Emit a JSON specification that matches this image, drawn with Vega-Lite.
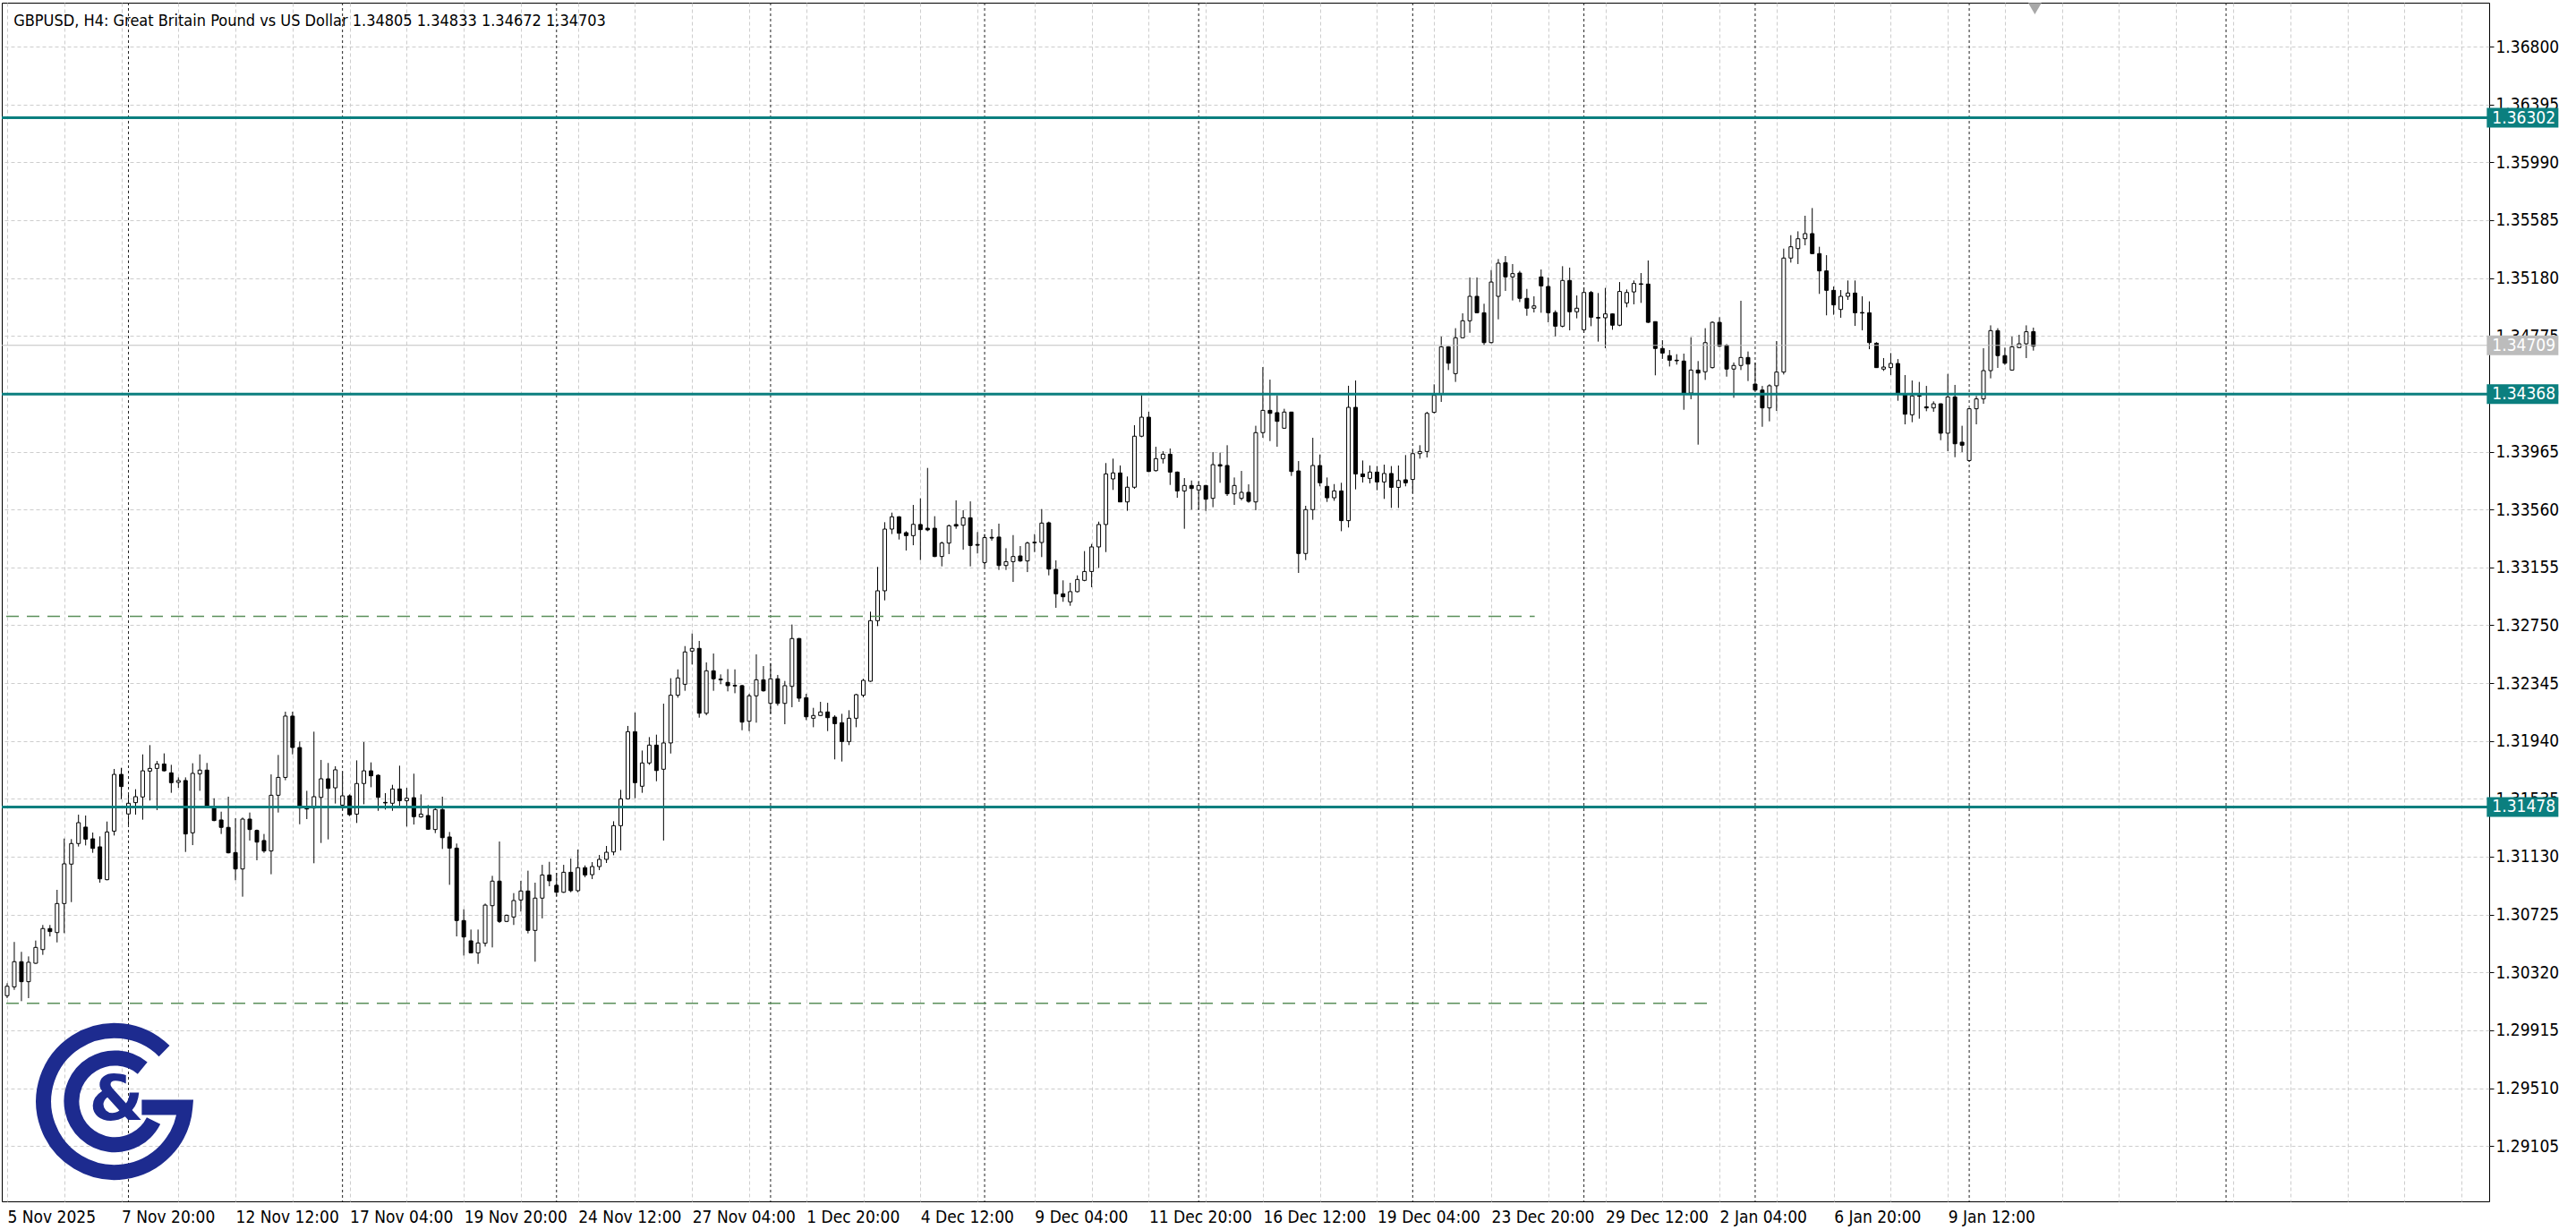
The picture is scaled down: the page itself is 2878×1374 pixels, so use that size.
{
"$schema":"https://vega.github.io/schema/vega-lite/v6.json",
"width":2779,"height":1339,
"autosize":{"type":"none"},
"padding":{"left":2,"top":3,"right":97,"bottom":32},
"background":"#ffffff",
"config":{
 "view":{"stroke":"#000000","strokeWidth":1},
 "axis":{"labelFont":"DejaVu Sans Condensed","labelFontSize":19,"labelColor":"#000000","domainColor":"#000000","tickColor":"#000000","gridColor":"#cdcdcd","gridDash":[4,3],"gridWidth":1}
},
"datasets":{
"candles":[
{"i":0,"o":1.30157,"h":1.30244,"l":1.30140,"c":1.30223},
{"i":1,"o":1.30219,"h":1.30533,"l":1.30198,"c":1.30395},
{"i":2,"o":1.30395,"h":1.30464,"l":1.30119,"c":1.30255},
{"i":3,"o":1.30255,"h":1.30432,"l":1.30140,"c":1.30391},
{"i":4,"o":1.30384,"h":1.30543,"l":1.30380,"c":1.30495},
{"i":5,"o":1.30480,"h":1.30652,"l":1.30443,"c":1.30627},
{"i":6,"o":1.30627,"h":1.30652,"l":1.30572,"c":1.30606},
{"i":7,"o":1.30599,"h":1.30898,"l":1.30530,"c":1.30802},
{"i":8,"o":1.30802,"h":1.31257,"l":1.30595,"c":1.31080},
{"i":9,"o":1.31078,"h":1.31253,"l":1.30812,"c":1.31222},
{"i":10,"o":1.31222,"h":1.31424,"l":1.31201,"c":1.31368},
{"i":11,"o":1.31337,"h":1.31418,"l":1.31209,"c":1.31253},
{"i":12,"o":1.31255,"h":1.31299,"l":1.31157,"c":1.31188},
{"i":13,"o":1.31199,"h":1.31272,"l":1.30948,"c":1.30975},
{"i":14,"o":1.30969,"h":1.31376,"l":1.30965,"c":1.31303},
{"i":15,"o":1.31309,"h":1.31744,"l":1.31278,"c":1.31706},
{"i":16,"o":1.31706,"h":1.31752,"l":1.31533,"c":1.31621},
{"i":17,"o":1.31429,"h":1.31564,"l":1.31341,"c":1.31504},
{"i":18,"o":1.31508,"h":1.31602,"l":1.31424,"c":1.31550},
{"i":19,"o":1.31548,"h":1.31846,"l":1.31389,"c":1.31731},
{"i":20,"o":1.31729,"h":1.31911,"l":1.31523,"c":1.31748},
{"i":21,"o":1.31748,"h":1.31800,"l":1.31456,"c":1.31779},
{"i":22,"o":1.31779,"h":1.31853,"l":1.31727,"c":1.31731},
{"i":23,"o":1.31717,"h":1.31773,"l":1.31577,"c":1.31648},
{"i":24,"o":1.31650,"h":1.31685,"l":1.31612,"c":1.31663},
{"i":25,"o":1.31663,"h":1.31685,"l":1.31163,"c":1.31289},
{"i":26,"o":1.31297,"h":1.31784,"l":1.31211,"c":1.31713},
{"i":27,"o":1.31710,"h":1.31846,"l":1.31591,"c":1.31736},
{"i":28,"o":1.31736,"h":1.31786,"l":1.31481,"c":1.31487},
{"i":29,"o":1.31470,"h":1.31539,"l":1.31378,"c":1.31383},
{"i":30,"o":1.31387,"h":1.31445,"l":1.31289,"c":1.31335},
{"i":31,"o":1.31335,"h":1.31550,"l":1.31153,"c":1.31157},
{"i":32,"o":1.31159,"h":1.31399,"l":1.30965,"c":1.31044},
{"i":33,"o":1.31044,"h":1.31404,"l":1.30850,"c":1.31393},
{"i":34,"o":1.31393,"h":1.31439,"l":1.31243,"c":1.31320},
{"i":35,"o":1.31314,"h":1.31320,"l":1.31105,"c":1.31232},
{"i":36,"o":1.31243,"h":1.31289,"l":1.31157,"c":1.31170},
{"i":37,"o":1.31170,"h":1.31706,"l":1.31007,"c":1.31560},
{"i":38,"o":1.31560,"h":1.31842,"l":1.31439,"c":1.31685},
{"i":39,"o":1.31685,"h":1.32145,"l":1.31665,"c":1.32114},
{"i":40,"o":1.32114,"h":1.32145,"l":1.31846,"c":1.31894},
{"i":41,"o":1.31894,"h":1.31936,"l":1.31357,"c":1.31470},
{"i":42,"o":1.31470,"h":1.31591,"l":1.31393,"c":1.31464},
{"i":43,"o":1.31470,"h":1.32005,"l":1.31084,"c":1.31550},
{"i":44,"o":1.31545,"h":1.31807,"l":1.31226,"c":1.31675},
{"i":45,"o":1.31675,"h":1.31786,"l":1.31251,"c":1.31608},
{"i":46,"o":1.31612,"h":1.31763,"l":1.31502,"c":1.31738},
{"i":47,"o":1.31491,"h":1.31727,"l":1.31456,"c":1.31556},
{"i":48,"o":1.31556,"h":1.31566,"l":1.31414,"c":1.31424},
{"i":49,"o":1.31428,"h":1.31804,"l":1.31366,"c":1.31642},
{"i":50,"o":1.31642,"h":1.31932,"l":1.31497,"c":1.31731},
{"i":51,"o":1.31731,"h":1.31790,"l":1.31616,"c":1.31696},
{"i":52,"o":1.31700,"h":1.31706,"l":1.31451,"c":1.31545},
{"i":53,"o":1.31510,"h":1.31575,"l":1.31460,"c":1.31506},
{"i":54,"o":1.31504,"h":1.31633,"l":1.31451,"c":1.31604},
{"i":55,"o":1.31604,"h":1.31767,"l":1.31487,"c":1.31522},
{"i":56,"o":1.31522,"h":1.31612,"l":1.31341,"c":1.31539},
{"i":57,"o":1.31543,"h":1.31711,"l":1.31355,"c":1.31410},
{"i":58,"o":1.31408,"h":1.31566,"l":1.31403,"c":1.31428},
{"i":59,"o":1.31418,"h":1.31491,"l":1.31320,"c":1.31322},
{"i":60,"o":1.31320,"h":1.31470,"l":1.31295,"c":1.31460},
{"i":61,"o":1.31460,"h":1.31550,"l":1.31184,"c":1.31263},
{"i":62,"o":1.31268,"h":1.31303,"l":1.30933,"c":1.31190},
{"i":63,"o":1.31190,"h":1.31222,"l":1.30572,"c":1.30683},
{"i":64,"o":1.30683,"h":1.30762,"l":1.30438,"c":1.30568},
{"i":65,"o":1.30541,"h":1.30620,"l":1.30453,"c":1.30457},
{"i":66,"o":1.30457,"h":1.30620,"l":1.30380,"c":1.30526},
{"i":67,"o":1.30524,"h":1.30802,"l":1.30501,"c":1.30791},
{"i":68,"o":1.30787,"h":1.30996,"l":1.30495,"c":1.30959},
{"i":69,"o":1.30959,"h":1.31236,"l":1.30666,"c":1.30677},
{"i":70,"o":1.30677,"h":1.30725,"l":1.30672,"c":1.30720},
{"i":71,"o":1.30708,"h":1.30875,"l":1.30652,"c":1.30823},
{"i":72,"o":1.30827,"h":1.30961,"l":1.30746,"c":1.30890},
{"i":73,"o":1.30890,"h":1.31032,"l":1.30593,"c":1.30614},
{"i":74,"o":1.30614,"h":1.30948,"l":1.30395,"c":1.30840},
{"i":75,"o":1.30840,"h":1.31073,"l":1.30698,"c":1.31002},
{"i":76,"o":1.31002,"h":1.31094,"l":1.30923,"c":1.30961},
{"i":77,"o":1.30930,"h":1.31017,"l":1.30854,"c":1.30881},
{"i":78,"o":1.30881,"h":1.31073,"l":1.30877,"c":1.31021},
{"i":79,"o":1.31021,"h":1.31117,"l":1.30881,"c":1.30892},
{"i":80,"o":1.30892,"h":1.31180,"l":1.30881,"c":1.31053},
{"i":81,"o":1.31053,"h":1.31069,"l":1.30986,"c":1.31002},
{"i":82,"o":1.31004,"h":1.31092,"l":1.30973,"c":1.31061},
{"i":83,"o":1.31061,"h":1.31142,"l":1.31036,"c":1.31111},
{"i":84,"o":1.31111,"h":1.31205,"l":1.31086,"c":1.31161},
{"i":85,"o":1.31163,"h":1.31378,"l":1.31140,"c":1.31347},
{"i":86,"o":1.31347,"h":1.31598,"l":1.31174,"c":1.31535},
{"i":87,"o":1.31535,"h":1.32045,"l":1.31530,"c":1.32005},
{"i":88,"o":1.32005,"h":1.32139,"l":1.31539,"c":1.31648},
{"i":89,"o":1.31623,"h":1.31873,"l":1.31577,"c":1.31786},
{"i":90,"o":1.31786,"h":1.31967,"l":1.31773,"c":1.31911},
{"i":91,"o":1.31911,"h":1.31984,"l":1.31658,"c":1.31733},
{"i":92,"o":1.31742,"h":1.32201,"l":1.31243,"c":1.31926},
{"i":93,"o":1.31926,"h":1.32379,"l":1.31852,"c":1.32260},
{"i":94,"o":1.32260,"h":1.32441,"l":1.32243,"c":1.32381},
{"i":95,"o":1.32337,"h":1.32604,"l":1.32291,"c":1.32563},
{"i":96,"o":1.32569,"h":1.32692,"l":1.32475,"c":1.32588},
{"i":97,"o":1.32588,"h":1.32640,"l":1.32103,"c":1.32134},
{"i":98,"o":1.32134,"h":1.32490,"l":1.32120,"c":1.32431},
{"i":99,"o":1.32431,"h":1.32552,"l":1.32291,"c":1.32375},
{"i":100,"o":1.32373,"h":1.32406,"l":1.32337,"c":1.32368},
{"i":101,"o":1.32350,"h":1.32443,"l":1.32287,"c":1.32327},
{"i":102,"o":1.32329,"h":1.32441,"l":1.32274,"c":1.32325},
{"i":103,"o":1.32327,"h":1.32333,"l":1.32015,"c":1.32072},
{"i":104,"o":1.32078,"h":1.32270,"l":1.32009,"c":1.32256},
{"i":105,"o":1.32256,"h":1.32546,"l":1.32068,"c":1.32368},
{"i":106,"o":1.32368,"h":1.32464,"l":1.32285,"c":1.32291},
{"i":107,"o":1.32203,"h":1.32485,"l":1.32130,"c":1.32375},
{"i":108,"o":1.32375,"h":1.32402,"l":1.32187,"c":1.32203},
{"i":109,"o":1.32203,"h":1.32360,"l":1.32057,"c":1.32327},
{"i":110,"o":1.32322,"h":1.32755,"l":1.32176,"c":1.32657},
{"i":111,"o":1.32657,"h":1.32661,"l":1.32214,"c":1.32239},
{"i":112,"o":1.32243,"h":1.32270,"l":1.32086,"c":1.32109},
{"i":113,"o":1.32099,"h":1.32172,"l":1.32036,"c":1.32118},
{"i":114,"o":1.32118,"h":1.32214,"l":1.32114,"c":1.32143},
{"i":115,"o":1.32143,"h":1.32207,"l":1.32009,"c":1.32103},
{"i":116,"o":1.32107,"h":1.32120,"l":1.31811,"c":1.32061},
{"i":117,"o":1.32068,"h":1.32130,"l":1.31796,"c":1.31936},
{"i":118,"o":1.31936,"h":1.32155,"l":1.31911,"c":1.32099},
{"i":119,"o":1.32099,"h":1.32270,"l":1.32036,"c":1.32264},
{"i":120,"o":1.32260,"h":1.32375,"l":1.32245,"c":1.32364},
{"i":121,"o":1.32358,"h":1.32845,"l":1.32354,"c":1.32782},
{"i":122,"o":1.32782,"h":1.33158,"l":1.32744,"c":1.32991},
{"i":123,"o":1.32991,"h":1.33471,"l":1.32924,"c":1.33423},
{"i":124,"o":1.33423,"h":1.33538,"l":1.33388,"c":1.33509},
{"i":125,"o":1.33509,"h":1.33513,"l":1.33350,"c":1.33394},
{"i":126,"o":1.33398,"h":1.33408,"l":1.33273,"c":1.33377},
{"i":127,"o":1.33377,"h":1.33592,"l":1.33310,"c":1.33456},
{"i":128,"o":1.33455,"h":1.33638,"l":1.33206,"c":1.33419},
{"i":129,"o":1.33429,"h":1.33851,"l":1.33408,"c":1.33417},
{"i":130,"o":1.33429,"h":1.33513,"l":1.33227,"c":1.33231},
{"i":131,"o":1.33231,"h":1.33335,"l":1.33162,"c":1.33325},
{"i":132,"o":1.33325,"h":1.33455,"l":1.33248,"c":1.33446},
{"i":133,"o":1.33455,"h":1.33624,"l":1.33425,"c":1.33444},
{"i":134,"o":1.33450,"h":1.33555,"l":1.33279,"c":1.33502},
{"i":135,"o":1.33502,"h":1.33617,"l":1.33162,"c":1.33308},
{"i":136,"o":1.33315,"h":1.33402,"l":1.33252,"c":1.33310},
{"i":137,"o":1.33189,"h":1.33388,"l":1.33158,"c":1.33363},
{"i":138,"o":1.33365,"h":1.33423,"l":1.33342,"c":1.33360},
{"i":139,"o":1.33367,"h":1.33461,"l":1.33137,"c":1.33168},
{"i":140,"o":1.33168,"h":1.33289,"l":1.33137,"c":1.33195},
{"i":141,"o":1.33195,"h":1.33381,"l":1.33053,"c":1.33231},
{"i":142,"o":1.33235,"h":1.33304,"l":1.33193,"c":1.33200},
{"i":143,"o":1.33200,"h":1.33335,"l":1.33122,"c":1.33325},
{"i":144,"o":1.33331,"h":1.33388,"l":1.33262,"c":1.33327},
{"i":145,"o":1.33329,"h":1.33563,"l":1.33227,"c":1.33465},
{"i":146,"o":1.33467,"h":1.33475,"l":1.33099,"c":1.33143},
{"i":147,"o":1.33141,"h":1.33204,"l":1.32872,"c":1.32970},
{"i":148,"o":1.32970,"h":1.33064,"l":1.32914,"c":1.32949},
{"i":149,"o":1.32914,"h":1.33047,"l":1.32886,"c":1.32985},
{"i":150,"o":1.32985,"h":1.33099,"l":1.32980,"c":1.33070},
{"i":151,"o":1.33064,"h":1.33269,"l":1.33058,"c":1.33126},
{"i":152,"o":1.33126,"h":1.33319,"l":1.33016,"c":1.33298},
{"i":153,"o":1.33298,"h":1.33475,"l":1.33151,"c":1.33455},
{"i":154,"o":1.33455,"h":1.33885,"l":1.33262,"c":1.33809},
{"i":155,"o":1.33774,"h":1.33916,"l":1.33697,"c":1.33816},
{"i":156,"o":1.33816,"h":1.33868,"l":1.33611,"c":1.33613},
{"i":157,"o":1.33613,"h":1.33791,"l":1.33551,"c":1.33716},
{"i":158,"o":1.33716,"h":1.34150,"l":1.33705,"c":1.34073},
{"i":159,"o":1.34073,"h":1.34360,"l":1.34066,"c":1.34206},
{"i":160,"o":1.34206,"h":1.34244,"l":1.33822,"c":1.33826},
{"i":161,"o":1.33832,"h":1.33999,"l":1.33826,"c":1.33916},
{"i":162,"o":1.33916,"h":1.33968,"l":1.33882,"c":1.33947},
{"i":163,"o":1.33947,"h":1.33987,"l":1.33732,"c":1.33822},
{"i":164,"o":1.33822,"h":1.33826,"l":1.33642,"c":1.33690},
{"i":165,"o":1.33690,"h":1.33780,"l":1.33425,"c":1.33728},
{"i":166,"o":1.33728,"h":1.33763,"l":1.33559,"c":1.33707},
{"i":167,"o":1.33697,"h":1.33753,"l":1.33559,"c":1.33728},
{"i":168,"o":1.33728,"h":1.33732,"l":1.33550,"c":1.33632},
{"i":169,"o":1.33638,"h":1.33962,"l":1.33576,"c":1.33874},
{"i":170,"o":1.33874,"h":1.33958,"l":1.33747,"c":1.33864},
{"i":171,"o":1.33868,"h":1.34010,"l":1.33655,"c":1.33670},
{"i":172,"o":1.33670,"h":1.33784,"l":1.33592,"c":1.33728},
{"i":173,"o":1.33638,"h":1.33830,"l":1.33624,"c":1.33680},
{"i":174,"o":1.33680,"h":1.33736,"l":1.33607,"c":1.33617},
{"i":175,"o":1.33613,"h":1.34146,"l":1.33555,"c":1.34098},
{"i":176,"o":1.34098,"h":1.34557,"l":1.34062,"c":1.34254},
{"i":177,"o":1.34254,"h":1.34469,"l":1.34039,"c":1.34233},
{"i":178,"o":1.34238,"h":1.34359,"l":1.33999,"c":1.34177},
{"i":179,"o":1.34129,"h":1.34265,"l":1.34125,"c":1.34242},
{"i":180,"o":1.34242,"h":1.34244,"l":1.33795,"c":1.33826},
{"i":181,"o":1.33830,"h":1.33899,"l":1.33116,"c":1.33252},
{"i":182,"o":1.33252,"h":1.33586,"l":1.33206,"c":1.33559},
{"i":183,"o":1.33559,"h":1.34062,"l":1.33488,"c":1.33868},
{"i":184,"o":1.33868,"h":1.33945,"l":1.33722,"c":1.33747},
{"i":185,"o":1.33722,"h":1.33784,"l":1.33613,"c":1.33642},
{"i":186,"o":1.33642,"h":1.33738,"l":1.33621,"c":1.33690},
{"i":187,"o":1.33690,"h":1.33747,"l":1.33408,"c":1.33482},
{"i":188,"o":1.33482,"h":1.34426,"l":1.33434,"c":1.34275},
{"i":189,"o":1.34275,"h":1.34463,"l":1.33701,"c":1.33809},
{"i":190,"o":1.33809,"h":1.33903,"l":1.33749,"c":1.33790},
{"i":191,"o":1.33778,"h":1.33868,"l":1.33743,"c":1.33822},
{"i":192,"o":1.33822,"h":1.33864,"l":1.33695,"c":1.33753},
{"i":193,"o":1.33753,"h":1.33874,"l":1.33634,"c":1.33812},
{"i":194,"o":1.33812,"h":1.33864,"l":1.33571,"c":1.33715},
{"i":195,"o":1.33715,"h":1.33868,"l":1.33571,"c":1.33763},
{"i":196,"o":1.33768,"h":1.33941,"l":1.33722,"c":1.33747},
{"i":197,"o":1.33770,"h":1.33977,"l":1.33674,"c":1.33951},
{"i":198,"o":1.33951,"h":1.34010,"l":1.33916,"c":1.33966},
{"i":199,"o":1.33966,"h":1.34244,"l":1.33924,"c":1.34233},
{"i":200,"o":1.34240,"h":1.34436,"l":1.34233,"c":1.34359},
{"i":201,"o":1.34369,"h":1.34770,"l":1.34313,"c":1.34699},
{"i":202,"o":1.34699,"h":1.34703,"l":1.34536,"c":1.34584},
{"i":203,"o":1.34511,"h":1.34829,"l":1.34453,"c":1.34762},
{"i":204,"o":1.34762,"h":1.34933,"l":1.34760,"c":1.34881},
{"i":205,"o":1.34881,"h":1.35184,"l":1.34797,"c":1.35052},
{"i":206,"o":1.35052,"h":1.35184,"l":1.34933,"c":1.34937},
{"i":207,"o":1.34937,"h":1.35000,"l":1.34710,"c":1.34728},
{"i":208,"o":1.34728,"h":1.35236,"l":1.34724,"c":1.35152},
{"i":209,"o":1.35052,"h":1.35313,"l":1.34891,"c":1.35284},
{"i":210,"o":1.35288,"h":1.35334,"l":1.35090,"c":1.35188},
{"i":211,"o":1.35188,"h":1.35278,"l":1.35023,"c":1.35211},
{"i":212,"o":1.35215,"h":1.35230,"l":1.35012,"c":1.35038},
{"i":213,"o":1.35038,"h":1.35104,"l":1.34916,"c":1.34969},
{"i":214,"o":1.34969,"h":1.35052,"l":1.34939,"c":1.34985},
{"i":215,"o":1.35188,"h":1.35240,"l":1.34937,"c":1.35125},
{"i":216,"o":1.35121,"h":1.35184,"l":1.34870,"c":1.34937},
{"i":217,"o":1.34939,"h":1.34954,"l":1.34772,"c":1.34843},
{"i":218,"o":1.34843,"h":1.35263,"l":1.34835,"c":1.35163},
{"i":219,"o":1.35163,"h":1.35253,"l":1.34814,"c":1.34944},
{"i":220,"o":1.34944,"h":1.35058,"l":1.34898,"c":1.34969},
{"i":221,"o":1.34818,"h":1.35115,"l":1.34797,"c":1.35079},
{"i":222,"o":1.35079,"h":1.35090,"l":1.34843,"c":1.34906},
{"i":223,"o":1.34904,"h":1.35075,"l":1.34735,"c":1.34900},
{"i":224,"o":1.34902,"h":1.35111,"l":1.34689,"c":1.34929},
{"i":225,"o":1.34929,"h":1.34933,"l":1.34818,"c":1.34850},
{"i":226,"o":1.34850,"h":1.35152,"l":1.34843,"c":1.35086},
{"i":227,"o":1.35006,"h":1.35100,"l":1.34975,"c":1.35079},
{"i":228,"o":1.35083,"h":1.35163,"l":1.34996,"c":1.35142},
{"i":229,"o":1.35140,"h":1.35215,"l":1.35006,"c":1.35136},
{"i":230,"o":1.35138,"h":1.35303,"l":1.34866,"c":1.34870},
{"i":231,"o":1.34875,"h":1.34875,"l":1.34499,"c":1.34687},
{"i":232,"o":1.34687,"h":1.34745,"l":1.34614,"c":1.34655},
{"i":233,"o":1.34637,"h":1.34676,"l":1.34561,"c":1.34605},
{"i":234,"o":1.34605,"h":1.34647,"l":1.34574,"c":1.34601},
{"i":235,"o":1.34599,"h":1.34651,"l":1.34258,"c":1.34375},
{"i":236,"o":1.34375,"h":1.34766,"l":1.34332,"c":1.34536},
{"i":237,"o":1.34536,"h":1.34599,"l":1.34014,"c":1.34515},
{"i":238,"o":1.34524,"h":1.34829,"l":1.34467,"c":1.34728},
{"i":239,"o":1.34553,"h":1.34877,"l":1.34547,"c":1.34870},
{"i":240,"o":1.34870,"h":1.34906,"l":1.34697,"c":1.34703},
{"i":241,"o":1.34710,"h":1.34718,"l":1.34490,"c":1.34543},
{"i":242,"o":1.34543,"h":1.34589,"l":1.34342,"c":1.34568},
{"i":243,"o":1.34568,"h":1.35021,"l":1.34536,"c":1.34624},
{"i":244,"o":1.34624,"h":1.34666,"l":1.34459,"c":1.34578},
{"i":245,"o":1.34438,"h":1.34589,"l":1.34390,"c":1.34396},
{"i":246,"o":1.34396,"h":1.34425,"l":1.34139,"c":1.34271},
{"i":247,"o":1.34271,"h":1.34436,"l":1.34177,"c":1.34426},
{"i":248,"o":1.34426,"h":1.34739,"l":1.34250,"c":1.34522},
{"i":249,"o":1.34522,"h":1.35386,"l":1.34505,"c":1.35320},
{"i":250,"o":1.35320,"h":1.35480,"l":1.35288,"c":1.35399},
{"i":251,"o":1.35386,"h":1.35507,"l":1.35278,"c":1.35455},
{"i":252,"o":1.35455,"h":1.35616,"l":1.35409,"c":1.35491},
{"i":253,"o":1.35491,"h":1.35670,"l":1.35347,"c":1.35351},
{"i":254,"o":1.35351,"h":1.35399,"l":1.35069,"c":1.35230},
{"i":255,"o":1.35230,"h":1.35340,"l":1.34919,"c":1.35094},
{"i":256,"o":1.35094,"h":1.35121,"l":1.34923,"c":1.34992},
{"i":257,"o":1.34960,"h":1.35096,"l":1.34902,"c":1.35052},
{"i":258,"o":1.35052,"h":1.35163,"l":1.35027,"c":1.35075},
{"i":259,"o":1.35075,"h":1.35163,"l":1.34845,"c":1.34937},
{"i":260,"o":1.34939,"h":1.35052,"l":1.34814,"c":1.34935},
{"i":261,"o":1.34937,"h":1.35017,"l":1.34682,"c":1.34728},
{"i":262,"o":1.34724,"h":1.34731,"l":1.34551,"c":1.34553},
{"i":263,"o":1.34543,"h":1.34620,"l":1.34530,"c":1.34557},
{"i":264,"o":1.34553,"h":1.34655,"l":1.34501,"c":1.34582},
{"i":265,"o":1.34582,"h":1.34613,"l":1.34321,"c":1.34373},
{"i":266,"o":1.34363,"h":1.34501,"l":1.34156,"c":1.34227},
{"i":267,"o":1.34223,"h":1.34463,"l":1.34171,"c":1.34355},
{"i":268,"o":1.34357,"h":1.34453,"l":1.34196,"c":1.34353},
{"i":269,"o":1.34279,"h":1.34425,"l":1.34248,"c":1.34271},
{"i":270,"o":1.34271,"h":1.34317,"l":1.34244,"c":1.34300},
{"i":271,"o":1.34300,"h":1.34302,"l":1.34045,"c":1.34094},
{"i":272,"o":1.34094,"h":1.34509,"l":1.33968,"c":1.34348},
{"i":273,"o":1.34348,"h":1.34432,"l":1.33926,"c":1.34020},
{"i":274,"o":1.34031,"h":1.34146,"l":1.33962,"c":1.34010},
{"i":275,"o":1.33903,"h":1.34269,"l":1.33895,"c":1.34265},
{"i":276,"o":1.34265,"h":1.34355,"l":1.34156,"c":1.34334},
{"i":277,"o":1.34334,"h":1.34689,"l":1.34300,"c":1.34532},
{"i":278,"o":1.34532,"h":1.34849,"l":1.34478,"c":1.34812},
{"i":279,"o":1.34812,"h":1.34829,"l":1.34551,"c":1.34637},
{"i":280,"o":1.34637,"h":1.34693,"l":1.34572,"c":1.34584},
{"i":281,"o":1.34536,"h":1.34770,"l":1.34532,"c":1.34699},
{"i":282,"o":1.34693,"h":1.34783,"l":1.34689,"c":1.34720},
{"i":283,"o":1.34720,"h":1.34849,"l":1.34620,"c":1.34804},
{"i":284,"o":1.34805,"h":1.34833,"l":1.34672,"c":1.34703}
],
"weeks":[{"i":17},{"i":47},{"i":77},{"i":107},{"i":137},{"i":167},{"i":197},{"i":221},{"i":245},{"i":275},{"i":311}],
"levels":[{"p":1.36302},{"p":1.34368},{"p":1.31478}],
"bid":[{"p":1.34709}],
"dashed":[{"p":1.32812,"start":-0.125,"end":214.1},{"p":1.30104,"start":-0.125,"end":238.9}]
},
"layer":[
{"data":{"name":"candles"},"mark":{"type":"rule","color":"#000000","strokeWidth":1},
 "encoding":{
  "x":{"field":"i","type":"quantitative","scale":{"domain":[-0.125,347.25],"nice":false,"zero":false},
   "axis":{"title":null,"orient":"bottom","values":[0,8,16,24,32,40,48,56,64,72,80,88,96,104,112,120,128,136,144,152,160,168,176,184,192,200,208,216,224,232,240,248,256,264,272,280,288,296,304,312,320,328,336,344],
    "grid":true,"ticks":false,"domain":false,"labelAlign":"left","labelBaseline":"top","labelPadding":8,"labelDx":-3,"labelOverlap":false,"labelBound":false,"labelFlush":false,
    "labelExpr":"(datum.value % 16 == 0 && datum.value <= 272) ? ['5 Nov 2025','7 Nov 20:00','12 Nov 12:00','17 Nov 04:00','19 Nov 20:00','24 Nov 12:00','27 Nov 04:00','1 Dec 20:00','4 Dec 12:00','9 Dec 04:00','11 Dec 20:00','16 Dec 12:00','19 Dec 04:00','23 Dec 20:00','29 Dec 12:00','2 Jan 04:00','6 Jan 20:00','9 Jan 12:00'][datum.value/16] : ''"}},
  "y":{"field":"l","type":"quantitative","scale":{"domain":[1.287176,1.371073],"nice":false,"zero":false},
   "axis":{"title":null,"orient":"right","values":[1.29105,1.2951,1.29915,1.3032,1.30725,1.3113,1.31535,1.3194,1.32345,1.3275,1.33155,1.3356,1.33965,1.3437,1.34775,1.3518,1.35585,1.3599,1.36395,1.368],
    "format":".5f","grid":true,"ticks":true,"tickSize":5,"domain":false,"labelPadding":2,"labelAlign":"left","labelBaseline":"middle","labelOverlap":false,"labelBound":false,"labelFlush":false}},
  "y2":{"field":"h"}}},
{"data":{"name":"weeks"},"mark":{"type":"rule","color":"#222222","strokeWidth":1,"strokeDash":[3,3]},
 "encoding":{"x":{"field":"i","type":"quantitative"}}},
{"data":{"name":"candles"},"mark":{"type":"bar","width":4,"stroke":"#000000","strokeWidth":1},
 "encoding":{
  "x":{"field":"i","type":"quantitative"},
  "y":{"field":"o","type":"quantitative"},
  "y2":{"field":"c"},
  "fill":{"condition":{"test":"datum.c >= datum.o","value":"#ffffff"},"value":"#000000"}}},
{"data":{"name":"bid"},"mark":{"type":"rule","color":"#c0c0c0","strokeWidth":1},
 "encoding":{"y":{"field":"p","type":"quantitative"}}},
{"data":{"name":"dashed"},"mark":{"type":"rule","color":"#5a8f5a","strokeWidth":1.5,"strokeDash":[14,9]},
 "encoding":{"x":{"field":"start","type":"quantitative"},"x2":{"field":"end"},"y":{"field":"p","type":"quantitative"}}},
{"data":{"name":"levels"},"mark":{"type":"rule","color":"#0b7f7f","strokeWidth":3},
 "encoding":{"y":{"field":"p","type":"quantitative"}}},
{"data":{"name":"levels"},"mark":{"type":"point","shape":"M-1,-0.275 L1,-0.275 L1,0.275 L-1,0.275 Z","filled":true,"color":"#0b7f7f","size":6400,"opacity":1},
 "encoding":{"x":{"datum":352.56,"type":"quantitative"},"y":{"field":"p","type":"quantitative"}}},
{"data":{"name":"bid"},"mark":{"type":"point","shape":"M-1,-0.275 L1,-0.275 L1,0.275 L-1,0.275 Z","filled":true,"color":"#bcbcbc","size":6400,"opacity":1},
 "encoding":{"x":{"datum":352.56,"type":"quantitative"},"y":{"field":"p","type":"quantitative"}}},
{"data":{"name":"levels"},"mark":{"type":"text","color":"#ffffff","font":"DejaVu Sans Condensed","fontSize":19,"align":"left","baseline":"middle"},
 "encoding":{"x":{"datum":348.3,"type":"quantitative"},"y":{"field":"p","type":"quantitative"},"text":{"field":"p","type":"quantitative","format":".5f"}}},
{"data":{"name":"bid"},"mark":{"type":"text","color":"#ffffff","font":"DejaVu Sans Condensed","fontSize":19,"align":"left","baseline":"middle"},
 "encoding":{"x":{"datum":348.3,"type":"quantitative"},"y":{"field":"p","type":"quantitative"},"text":{"field":"p","type":"quantitative","format":".5f"}}},
{"data":{"values":[{"t":"GBPUSD, H4:  Great Britain Pound vs US Dollar  1.34805 1.34833 1.34672 1.34703"}]},
 "mark":{"type":"text","color":"#000000","font":"DejaVu Sans Condensed","fontSize":18,"align":"left","baseline":"alphabetic"},
 "encoding":{"x":{"datum":0.9,"type":"quantitative"},"y":{"datum":1.36944,"type":"quantitative"},"text":{"field":"t","type":"nominal"}}},
{"data":{"values":[{"k":"shift"}]},
 "mark":{"type":"point","shape":"triangle-down","filled":true,"color":"#a8a8a8","size":220,"opacity":1},
 "encoding":{"x":{"datum":284.2,"type":"quantitative"},"y":{"datum":1.37066,"type":"quantitative"}}},
{"data":{"values":[{"k":"logo"}]},
 "mark":{"type":"point","shape":"M0.636,-0.636 A0.9,0.9 0 1 0 0.9,0.08 L0.35,0.08 M0.36,-0.42 A0.55,0.55 0 1 0 0.5,0.25","filled":false,"stroke":"#1d2b8f","strokeWidth":17,"size":30976,"opacity":1},
 "encoding":{"x":{"datum":15,"type":"quantitative"},"y":{"datum":1.29419,"type":"quantitative"}}},
{"data":{"values":[{"t":"&"}]},
 "mark":{"type":"text","color":"#1d2b8f","font":"DejaVu Sans","fontWeight":"bold","fontSize":70,"align":"center","baseline":"middle"},
 "encoding":{"x":{"datum":15.3,"type":"quantitative"},"y":{"datum":1.29419,"type":"quantitative"},"text":{"field":"t","type":"nominal"}}}
]
}
